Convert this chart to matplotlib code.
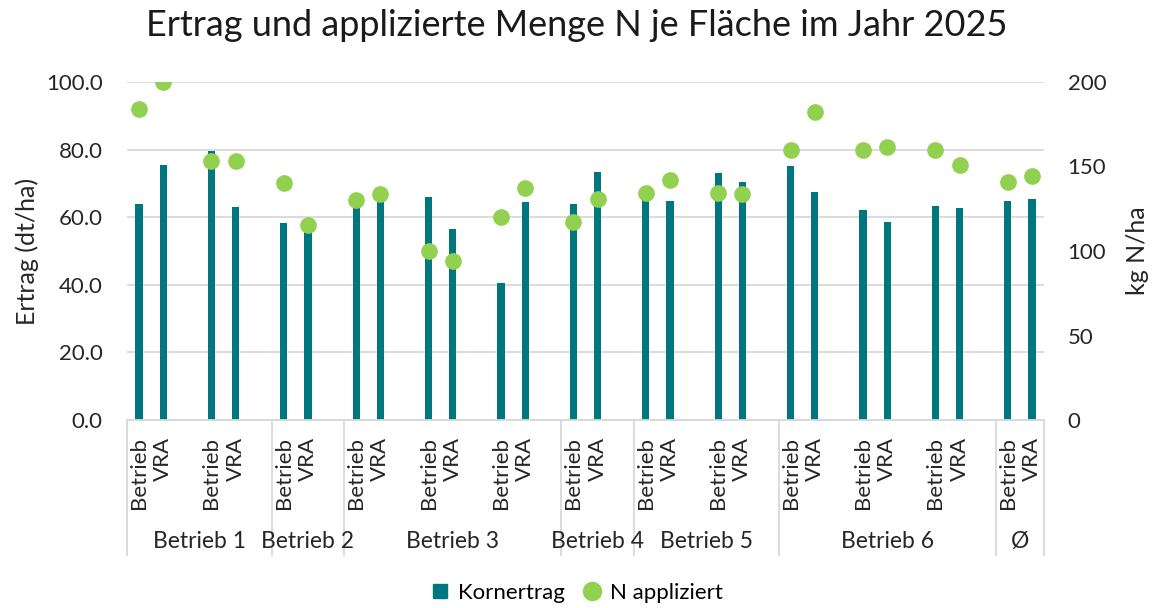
import matplotlib
matplotlib.use("Agg")
import matplotlib.pyplot as plt
import matplotlib.transforms as mtransforms
from matplotlib.lines import Line2D
import numpy as np

plt.rcParams['font.family'] = ['Lato', 'DejaVu Sans']

# Daten
gruppen = ["Betrieb 1", "Betrieb 2", "Betrieb 3", "Betrieb 4", "Betrieb 5", "Betrieb 6", "Ø"]
paare_je_gruppe = [2, 1, 3, 1, 2, 3, 1]
varianten = ["Betrieb", "VRA"]
kornertrag = [64.0, 75.3, 79.6, 63.0,
              58.4, 57.2,
              64.2, 68.6, 65.9, 56.4, 40.6, 64.5,
              63.8, 73.4,
              66.0, 64.9, 73.0, 70.4,
              75.1, 67.4, 62.0, 58.7, 63.2, 62.8,
              64.7, 65.3]
n_appliziert = [184, 200, 153, 153,
                140, 115.5,
                130, 134, 100, 94, 120, 137,
                117, 131,
                134.5, 142, 134.5, 133.5,
                160, 182, 160, 161.5, 160, 151,
                141, 144.5]

teal = "#00777F"
gruen = "#92D050"
grau = "#D9D9D9"
text_farbe = "#262626"

n_paare = sum(paare_je_gruppe)
x = []
labels = []
for k in range(n_paare):
    x += [3 * k, 3 * k + 1]
    labels += varianten
x = np.array(x)

fig = plt.figure(figsize=(11.54, 6.08), dpi=100)
ax = fig.add_axes([127 / 1154, 1 - 420 / 608, (1044 - 127) / 1154, 338 / 608])
ax2 = ax.twinx()

ax.bar(x, kornertrag, width=0.3, color=teal, zorder=3)
ax2.plot(x, n_appliziert, "o", color=gruen, markersize=11, zorder=4)

ax.set_xlim(-0.5, 3 * n_paare - 1.5)
ax.set_ylim(0, 100)
ax2.set_ylim(0, 200)
ax.set_yticks(np.arange(0, 101, 20))
ax.set_yticklabels([f"{v:.1f}" for v in np.arange(0, 101, 20)])
ax2.set_yticks(np.arange(0, 201, 50))
ax.yaxis.grid(True, color=grau, linewidth=1.3, zorder=0)
ax.set_axisbelow(True)
ax.set_zorder(ax2.get_zorder() - 1)
ax.patch.set_visible(False)
ax2.patch.set_visible(False)

for a in (ax, ax2):
    for s in ["top", "left", "right"]:
        a.spines[s].set_visible(False)
    a.spines["bottom"].set_color(grau)
    a.spines["bottom"].set_linewidth(1.3)
    a.tick_params(axis="y", length=0, labelsize=16, colors=text_farbe)
ax.tick_params(axis="y", pad=17.5)
ax2.tick_params(axis="y", pad=17)

ax.set_xticks(x)
ax.set_xticklabels(labels, rotation=90, fontsize=16, color=text_farbe, va="top")
ax.tick_params(axis="x", length=0, pad=12)

ax.set_ylabel("Ertrag (dt/ha)", fontsize=18, color=text_farbe, labelpad=5)
ax2.set_ylabel("kg N/ha", fontsize=18, color=text_farbe, rotation=90, labelpad=14)

# Gruppen-Trennlinien und Gruppenbeschriftungen
trans = mtransforms.blended_transform_factory(ax.transData, ax.transAxes)
start = 0
grenzen = [-0.5]
for g, n in zip(gruppen, paare_je_gruppe):
    ende = min(3 * (start + n) - 0.5, 3 * n_paare - 1.5)
    grenzen.append(ende)
    ax.text((3 * start - 0.5 + ende) / 2, -0.36, g, transform=trans,
            ha="center", va="center", fontsize=16.5, color=text_farbe)
    start += n
for b in grenzen:
    ax.plot([b, b], [0, -0.4], transform=trans, color=grau, linewidth=1.3, clip_on=False)

fig.suptitle("Ertrag und applizierte Menge N je Fläche im Jahr 2025", fontsize=26,
             color="#1a1a1a", y=0.985)

handles = [Line2D([], [], marker="s", linestyle="none", color=teal, markersize=10),
           Line2D([], [], marker="o", linestyle="none", color=gruen, markersize=13)]
fig.legend(handles, ["Kornertrag", "N appliziert"], loc="center", bbox_to_anchor=(0.5, 1 - 593 / 608),
           ncol=2, frameon=False, fontsize=16, handlelength=0.8, handletextpad=0.4,
           columnspacing=0.8)

fig.savefig("out.png", dpi=100)
